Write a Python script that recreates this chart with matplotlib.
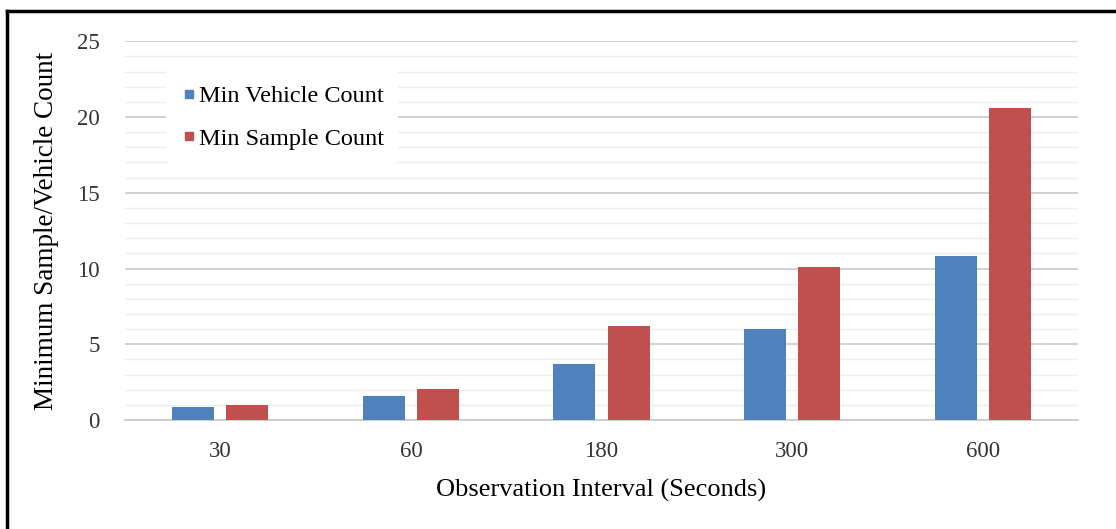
import matplotlib
matplotlib.use('Agg')
import matplotlib.pyplot as plt
import numpy as np
from matplotlib.lines import Line2D

intervals = ['30', '60', '180', '300', '600']
min_vehicle = [0.85, 1.6, 3.7, 6.0, 10.8]
min_sample = [1.0, 2.05, 6.2, 10.1, 20.6]

plt.rcParams['font.family'] = ['Liberation Serif', 'DejaVu Serif']

fig = plt.figure(figsize=(11.16, 5.29), dpi=100)
ax = fig.add_axes([0.112, 0.206, 0.854, 0.716])

x = np.arange(len(intervals))
w = 0.22
ax.bar(x - 0.142, min_vehicle, w, color='#4f81bd', label='Min Vehicle Count', zorder=3)
ax.bar(x + 0.142, min_sample, w, color='#c0504d', label='Min Sample Count', zorder=3)

ax.set_xlim(-0.5, len(intervals) - 0.5)
ax.set_ylim(0, 25)
ax.set_yticks(range(0, 26, 5))
ax.set_yticks(range(0, 26, 1), minor=True)
ax.grid(axis='y', which='major', color='#c8c8c8', lw=1.2, zorder=0)
ax.grid(axis='y', which='minor', color='#ececec', lw=1.0, zorder=0)
ax.set_xticks(x)
ax.set_xticklabels(intervals)
ax.tick_params(axis='both', which='both', length=0, labelsize=16.5, colors='#333333')
ax.tick_params(axis='x', pad=15)
ax.tick_params(axis='y', pad=18)
for s in ['top', 'right', 'left']:
    ax.spines[s].set_visible(False)
ax.spines['bottom'].set_color('#c8c8c8')
ax.spines['bottom'].set_linewidth(1.2)

ax.set_xlabel('Observation Interval (Seconds)', fontsize=19, labelpad=12)
ax.set_ylabel('Minimum Sample/Vehicle Count', fontsize=19.5, labelpad=13)

handles = [Line2D([], [], marker='s', ls='', color='#4f81bd', markersize=5.5),
           Line2D([], [], marker='s', ls='', color='#c0504d', markersize=5.5)]
leg = ax.legend(handles, ['Min Vehicle Count', 'Min Sample Count'],
                loc='upper left', bbox_to_anchor=(0.03, 0.955), fontsize=17.5,
                frameon=True, handletextpad=0.05, labelspacing=0.85,
                handlelength=0.7, borderpad=0.6)
leg.get_frame().set_facecolor('white')
leg.get_frame().set_edgecolor('none')
leg.get_frame().set_alpha(1)

fig.add_artist(Line2D([0.0065, 1.0], [0.979, 0.979], color='black', lw=2.5,
                      transform=fig.transFigure))
fig.add_artist(Line2D([0.0065, 0.0065], [0.0, 0.979], color='black', lw=2.5,
                      transform=fig.transFigure))

fig.savefig('out.png', dpi=100)
